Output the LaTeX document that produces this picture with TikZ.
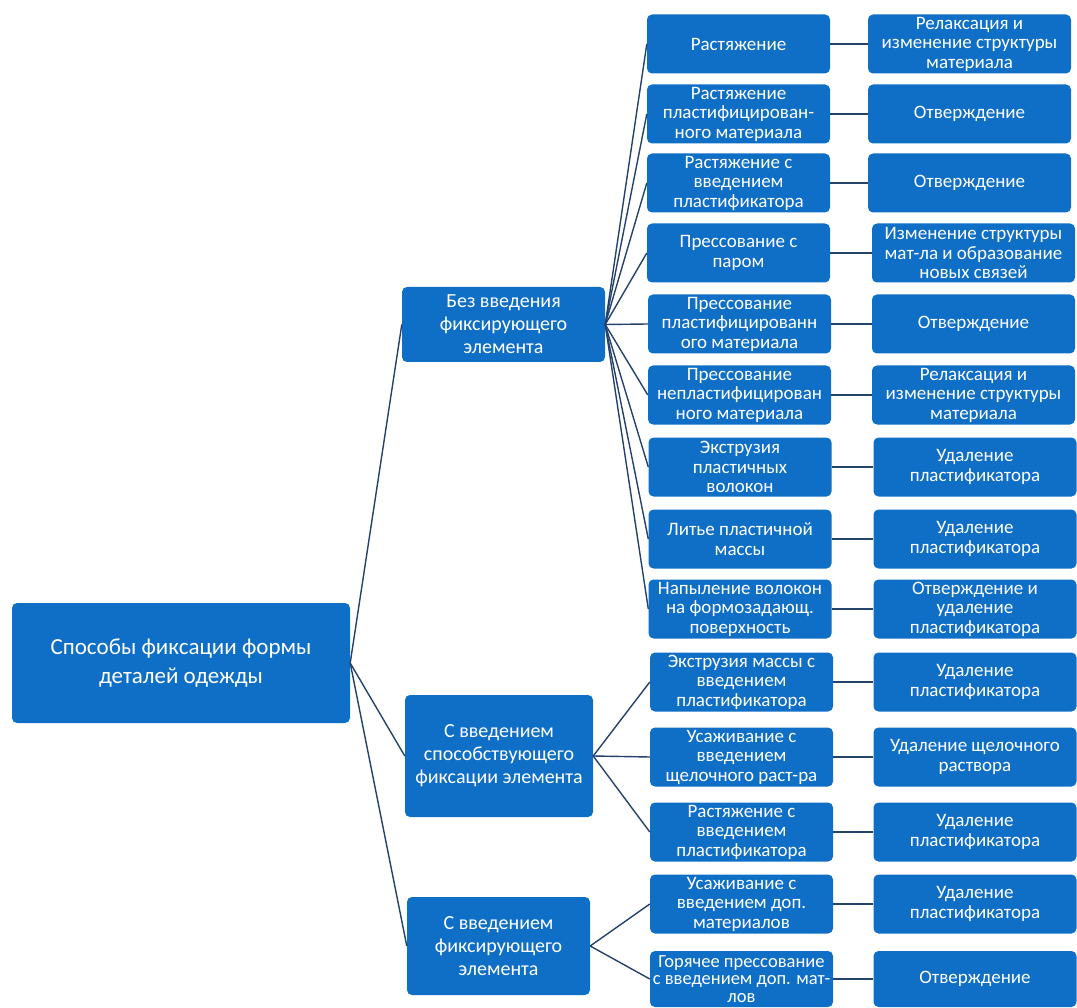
\documentclass[tikz,border=0pt]{standalone}
\usepackage{fontspec}
\setmainfont{Carlito}
\definecolor{boxblue}{HTML}{0F6FC6}
\definecolor{linknavy}{HTML}{25426B}
\tikzset{
  box/.style={fill=boxblue, rounded corners=5pt, text=white, align=center, inner sep=1pt},
  rootbox/.style={box, minimum width=338, minimum height=120, font=\fontsize{23}{29}\selectfont},
  groupbox/.style={box, font=\fontsize{20}{23}\selectfont},
  waybox/.style={box, minimum width=183, minimum height=59, font=\fontsize{19}{19.5}\selectfont},
  endbox/.style={box, minimum width=203, minimum height=59, font=\fontsize{19}{19.5}\selectfont},
  link/.style={draw=linknavy, line width=1.4pt}
}
\begin{document}
\begin{tikzpicture}[x=1pt, y=-1pt]
				%%%%% START %%%%%
				\useasboundingbox (0, 0) rectangle (1077, 1008);
				
				\node[rootbox] (root) at (181, 663) {Способы фиксации формы\\деталей одежды};
				
				\node[groupbox, minimum width=203, minimum height=75] (without) at (503.5, 324.5) {Без введения\\фиксирующего\\элемента};
				\node[groupbox, minimum width=188, minimum height=122] (assist) at (499, 756) {С введением\\способствующего\\фиксации элемента};
				\node[groupbox, minimum width=183, minimum height=98] (fixing) at (498.5, 946) {С введением\\фиксирующего\\элемента};
				
				\node[waybox] (w1) at (738.5, 44) {Растяжение};
				\node[waybox] (w2) at (738.5, 114) {Растяжение\\пластифицирован-\\ного материала};
				\node[waybox] (w3) at (738.5, 183) {Растяжение с\\введением\\пластификатора};
				\node[waybox] (w4) at (738.5, 253) {Прессование с\\паром};
				\node[waybox] (w5) at (739.5, 324) {Прессование\\пластифицированн\\ого материала};
				\node[waybox] (w6) at (739.5, 395) {Прессование\\непластифицирован\\ного материала};
				\node[waybox] (w7) at (740, 467) {Экструзия\\пластичных\\волокон};
				\node[waybox] (w8) at (740, 539) {Литье пластичной\\массы};
				\node[waybox] (w9) at (740, 609) {Напыление волокон\\на формозадающ.\\поверхность};
				\node[waybox] (w10) at (741.5, 682) {Экструзия массы с\\введением\\пластификатора};
				\node[waybox] (w11) at (741.5, 757) {Усаживание с\\введением\\щелочного раст-ра};
				\node[waybox] (w12) at (741.5, 832) {Растяжение с\\введением\\пластификатора};
				\node[waybox] (w13) at (741.5, 904) {Усаживание с\\введением доп.\\материалов};
				\node[waybox, minimum height=56, font=\fontsize{18.5}{17.5}\selectfont] (w14) at (741.5, 979) {Горячее прессование\\с введением доп. мат-\\лов};
				
				\node[endbox] (e1) at (969.5, 44) {Релаксация и\\изменение структуры\\материала};
				\node[endbox] (e2) at (969.5, 114) {Отверждение};
				\node[endbox] (e3) at (969.5, 183) {Отверждение};
				\node[endbox] (e4) at (973.5, 253) {Изменение структуры\\мат-ла и образование\\новых связей};
				\node[endbox] (e5) at (973.5, 324) {Отверждение};
				\node[endbox] (e6) at (973.5, 395) {Релаксация и\\изменение структуры\\материала};
				\node[endbox] (e7) at (975, 467) {Удаление\\пластификатора};
				\node[endbox] (e8) at (975, 539) {Удаление\\пластификатора};
				\node[endbox] (e9) at (975, 609) {Отверждение и\\удаление\\пластификатора};
				\node[endbox] (e10) at (975, 682) {Удаление\\пластификатора};
				\node[endbox] (e11) at (975, 757) {Удаление щелочного\\раствора};
				\node[endbox] (e12) at (975, 832) {Удаление\\пластификатора};
				\node[endbox] (e13) at (975, 904) {Удаление\\пластификатора};
				\node[endbox, minimum height=56] (e14) at (975, 979) {Отверждение};
				
				% root to groups
				\draw[link] (root.east) -- (without.west);
				\draw[link] (root.east) -- (assist.west);
				\draw[link] (root.east) -- (fixing.west);
				
				% groups to ways
				\foreach \i in {1,...,9} {\draw[link] (without.east) -- (w\i.west);}
				\foreach \i in {10,11,12} {\draw[link] (assist.east) -- (w\i.west);}
				\foreach \i in {13,14} {\draw[link] (fixing.east) -- (w\i.west);}
				
				% ways to results
				\foreach \i in {1,...,14} {\draw[link] (w\i.east) -- (e\i.west);}
				%%%%% END %%%%%
\end{tikzpicture}
\end{document}
